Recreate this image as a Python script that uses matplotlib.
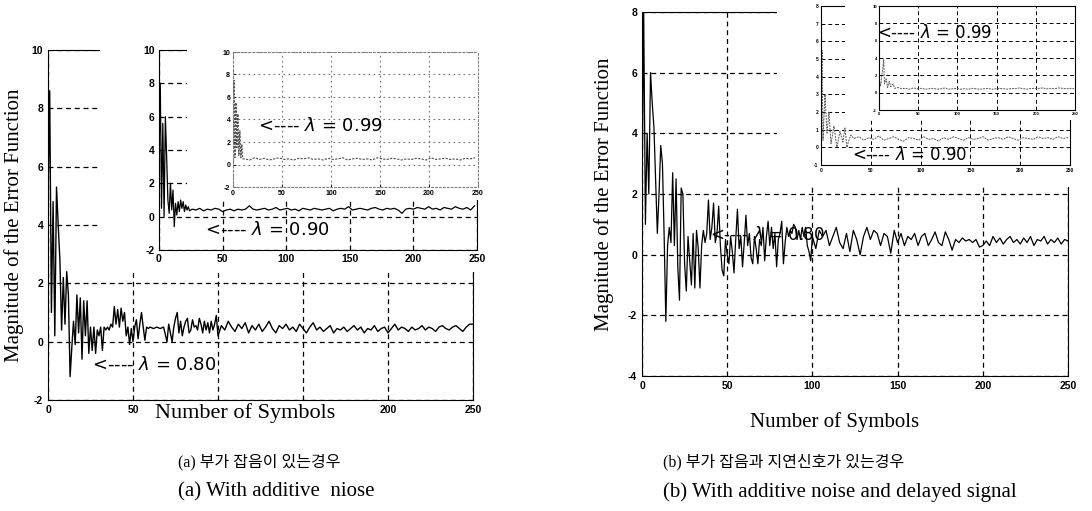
import numpy as np
import matplotlib.pyplot as plt
from matplotlib.patches import Rectangle

W, H = 1092, 511

# ---------------- data ----------------
# (a) additive noise, lambda = 0.80 (main plot)
a80_head_x = [0, 1, 2, 3, 4, 5, 6, 7, 8, 9, 10, 11, 12, 13, 14, 15, 16, 17, 18, 19,
              20, 21, 22, 23, 24, 25, 26, 27, 28, 29, 30, 31, 32, 33, 34, 35, 36, 37, 38, 39,
              40, 41, 42, 43, 44, 45, 46, 47, 48, 49, 50, 51, 52, 53, 54, 55, 56, 57, 58, 59,
              60, 62, 64, 66, 68, 70, 71, 73, 74, 75, 76, 77, 78, 79, 80, 81, 82, 83, 84, 85,
              86, 87, 88, 89, 90, 91, 92, 93, 94, 95, 96, 97, 98, 99, 100]
a80_head_y = [4.8, 8.6, 1.0, 4.8, 0.2, 5.3, 4.0, 2.8, 0.4, 2.2, 0.6, 2.4, 1.6, -1.2, -0.2, 0.7, -0.1, 1.6, 0.3, 1.5,
              -0.6, 1.4, 0.2, 1.4, -0.4, 0.5, -0.3, 0.5, -0.4, 0.4, 0.2, 0.5, -0.3, 0.5, 0.4, 0.5, 0.4, 0.6, 0.5, 1.2,
              0.6, 1.1, 0.5, 1.15, 0.7, 1.0, 0.2, 0.5, -0.1, 0.45, 0.0, 0.5, 0.75, 0.1, 0.6, 1.0, 0.5, 0.05, 0.5, 0.45,
              0.5, 0.45, 0.5, 0.45, 0.5, 0.0, 0.6, 0.0, 0.5, 0.8, 1.0, 0.3, 0.7, 0.2, 0.5, 0.7, 0.8, 0.3, 0.4, 0.75,
              0.5, 0.55, 0.4, 0.8, 0.6, 0.3, 0.7, 0.4, 0.65, 0.3, 0.7, 0.4, 0.6, 0.9, 0.2]
a80_tail_y = [0.55, 0.4, 0.7, 0.5, 0.35, 0.6, 0.45, 0.65, 0.3, 0.55, 0.4, 0.6, 0.35, 0.5, 0.7, 0.45, 0.3, 0.55, 0.45, 0.6,
              0.4, 0.5, 0.35, 0.6, 0.45, 0.3, 0.5, 0.65, 0.4, 0.5, 0.35, 0.45, 0.55, 0.3, 0.45, 0.4, 0.5, 0.35, 0.45, 0.55,
              0.4, 0.5, 0.3, 0.45, 0.4, 0.55, 0.35, 0.45, 0.5, 0.3, 0.45, 0.6, 0.4, 0.5, 0.45, 0.35, 0.5, 0.4, 0.45, 0.55,
              0.4, 0.5, 0.45, 0.35, 0.5, 0.55, 0.45, 0.4, 0.5, 0.55, 0.45, 0.35, 0.5, 0.6, 0.6]

# (a) lambda = 0.90 (first inset)
a90_head_x = list(range(25))
a90_head_y = [3.5, 8.0, 0.5, 5.6, 0.0, 6.0, 3.6, 1.0, 0.2, 2.0, 0.4, 1.6, -0.6, 0.8, 0.1, 0.9, 0.3, 1.0, 0.5, 0.9,
              0.3, 0.7, 0.4, 0.6, 0.35]
a90_tail_y = [0.45, 0.4, 0.5, 0.35, 0.45, 0.4, 0.5, 0.45, 0.3, 0.4, 0.45, 0.35, 0.45, 0.4, 0.45,
              0.65, 0.45, 0.4, 0.45, 0.5, 0.4, 0.45, 0.55, 0.4, 0.45, 0.5, 0.4, 0.45, 0.35, 0.5,
              0.45, 0.4, 0.5, 0.45, 0.4, 0.45, 0.5, 0.35, 0.45, 0.5, 0.45, 0.6, 0.4, 0.45, 0.5,
              0.45, 0.4, 0.5, 0.55, 0.45, 0.4, 0.5, 0.45, 0.5, 0.4, 0.2, 0.45, 0.5, 0.45, 0.55,
              0.5, 0.45, 0.6, 0.45, 0.5, 0.4, 0.55, 0.5, 0.45, 0.6, 0.5, 0.45, 0.55, 0.4, 0.65]

# (a) lambda = 0.99 (second inset)
a99_head_x = list(range(11))
a99_head_y = [2.0, 7.5, 0.6, 5.5, 1.5, 4.5, 0.8, 3.0, 0.6, 1.8, 0.5]
a99_tail_y = [0.5, 0.4, 0.6, 0.45, 0.55, 0.4, 0.5, 0.6, 0.45, 0.5, 0.4, 0.55, 0.5, 0.6, 0.45, 0.5,
              0.4, 0.55, 0.45, 0.5, 0.6, 0.4, 0.5, 0.55, 0.45, 0.5, 0.4, 0.6, 0.5, 0.45, 0.55, 0.5,
              0.4, 0.5, 0.45, 0.55, 0.5, 0.4, 0.6, 0.45, 0.5, 0.55, 0.45, 0.5, 0.4, 0.55, 0.5, 0.6]

# (b) additive noise + delayed signal, lambda = 0.80 (main plot)
b80_head_x = [0, 1, 2, 3, 4, 5, 6, 7, 9, 10, 11, 12, 13, 14, 15, 16, 17, 18, 19, 20,
              21, 22, 23, 24, 25, 26, 27, 28, 29, 30, 31, 32, 33, 34, 35, 36, 37, 38, 39, 40,
              41, 42, 43, 44, 45, 46, 47, 48, 49, 50, 51, 52, 53, 54, 55, 56, 57, 58, 59, 60,
              61, 62, 63, 64, 65, 66, 67, 68, 69, 70, 71, 72, 73, 74, 75, 76, 77, 78, 79, 80,
              81, 82, 83, 84, 85, 86, 87, 88, 89, 90, 91, 92, 93, 94, 95, 96, 97, 98, 99, 100]
b80_head_y = [1.8, 8.0, 1.0, 4.0, 2.0, 6.0, 5.0, 4.2, 0.7, 2.0, 3.6, 3.0, 0.6, -2.2, 0.3, 0.9, 0.4, 2.7, 0.3, 2.5,
              -0.4, -1.5, 2.2, 2.0, -0.3, -1.2, 0.6, -0.2, -1.0, 0.7, -1.1, 0.8, 0.2, -1.1, 0.3, 0.8, 0.4, 0.7, 1.8, 0.5,
              0.9, 1.7, 0.4, 0.7, 1.6, 0.3, -0.5, -0.7, 0.5, 0.0, -0.3, 0.6, 0.1, -0.6, 0.5, 1.5, 0.2, 0.6, -0.4, 0.4,
              1.3, 0.3, 0.7, -0.1, -0.3, 0.6, 0.2, -0.3, 0.5, 0.3, 0.9, -0.2, 0.6, 1.1, 0.3, 0.9, 0.2, 0.7, -0.4, 0.5,
              0.7, 1.1, -0.3, 0.4, 0.9, 0.6, 0.8, 0.7, 1.0, 0.9, 0.5, 0.8, 0.5, 0.9, 0.6, 0.9, 0.3, 0.1, -0.2, 0.6]
b80_tail_y = [0.2, 0.8, 0.6, 0.8, 0.3, 0.6, 0.9, 0.4, 0.2, 0.7,
              0.1, 0.8, 0.5, 0.0, 0.6, 0.9, 0.5, 0.8, 0.7, 0.3,
              0.7, 0.6, 0.05, 0.8, 0.4, 0.7, 0.3, 0.6, 0.5, 0.7,
              0.3, 0.6, 0.7, 0.3, 0.5, 0.75, 0.4, 0.3, 0.75, 0.5,
              0.15, 0.5, 0.4, 0.55, 0.45, 0.5, 0.4, 0.5, 0.25, 0.3,
              0.45, 0.3, 0.6, 0.4, 0.55, 0.35, 0.5, 0.6, 0.4, 0.5,
              0.35, 0.55, 0.4, 0.6, 0.3, 0.5, 0.45, 0.6, 0.35, 0.5,
              0.4, 0.55, 0.35, 0.5, 0.45]

# (b) lambda = 0.90 (first inset)
b90_head_x = [0, 1, 2, 4, 6, 8, 10, 13, 16, 19, 22, 24, 26, 28, 30]
b90_head_y = [1.0, 5.5, 0.4, 3.0, 0.8, 2.0, 0.2, 1.2, 0.0, 0.9, 0.3, 1.1, 0.0, 0.4, 0.7]
b90_tail_y = [0.5, 0.6, 0.4, 0.55, 0.45, 0.65, 0.4, 0.5, 0.6, 0.45, 0.35, 0.55, 0.5, 0.4, 0.6,
              0.45, 0.5, 0.35, 0.55, 0.45, 0.6, 0.5, 0.4, 0.55, 0.45, 0.5, 0.6, 0.4, 0.5, 0.55,
              0.45, 0.6, 0.5, 0.4, 0.55, 0.5, 0.45, 0.6, 0.5, 0.55, 0.45, 0.6, 0.5, 0.55]

# (b) lambda = 0.99 (second inset)
b99_head_x = [0, 2, 4, 6, 7, 9, 11, 13, 15, 18, 20]
b99_head_y = [1.5, 0.8, 2.2, 3.8, 1.0, 1.6, 0.6, 1.3, 0.7, 1.0, 0.5]
b99_tail_y = [0.6, 0.45, 0.5, 0.4, 0.55, 0.45, 0.5, 0.4, 0.45, 0.5, 0.4, 0.45, 0.55, 0.4, 0.45, 0.5,
              0.4, 0.45, 0.4, 0.5, 0.45, 0.4, 0.45, 0.5, 0.4, 0.45, 0.5, 0.45, 0.4, 0.5, 0.45, 0.55,
              0.45, 0.4, 0.5, 0.45, 0.5, 0.55, 0.45, 0.5, 0.45, 0.55, 0.5, 0.45, 0.5, 0.45]

x_ticks = [0, 50, 100, 150, 200, 250]


def series(head_x, head_y, start, step, tail_y):
    x = list(head_x) + [start + step * i for i in range(len(tail_y))]
    return x, list(head_y) + list(tail_y)


def box(l, t, r, b):
    # pixel box -> figure fraction [left, bottom, width, height]
    return [l / W, 1 - b / H, (r - l) / W, (b - t) / H]


def cover(fig, l, t, r, b, z):
    fig.add_artist(Rectangle((l / W, 1 - b / H), (r - l) / W, (b - t) / H,
                             transform=fig.transFigure, facecolor='white',
                             edgecolor='none', zorder=z))


def setup(ax, ylim, yticks, size, pad, grid_kw, xlabels=None):
    ax.set_xlim(0, 250)
    ax.set_ylim(*ylim)
    ax.set_xticks(x_ticks, labels=xlabels if xlabels else [str(t) for t in x_ticks],
                  fontsize=size, fontweight='bold', family='Liberation Sans')
    ax.set_yticks(yticks, labels=[str(t) for t in yticks],
                  fontsize=size, fontweight='bold', family='Liberation Sans')
    ax.tick_params(direction='in', length=2, width=0.6, pad=pad)
    ax.grid(True, **grid_kw)


fig = plt.figure(figsize=(W / 100, H / 100), dpi=100)
dash = dict(color='black', linestyle=(0, (4, 3)), linewidth=0.9)
faint = dict(color='0.45', linestyle=(0, (1.5, 3)), linewidth=0.8)
lam_font = dict(family='DejaVu Sans', fontsize=13, va='center', ha='left')

# ===================== panel (a) =====================
ax = fig.add_axes(box(48, 50, 473, 400))
ax.set_zorder(0)
setup(ax, (-2, 10), [-2, 0, 2, 4, 6, 8, 10], 7.5, 3.5, dash,
      xlabels=['0', '50', '', '', '200', '250'])
x, y = series(a80_head_x, a80_head_y, 102, 2, a80_tail_y)
ax.plot(x, y, color='black', lw=1.0)
ax.text(26, -0.8, r'<---- $\lambda$ = 0.80', **lam_font)
ax.set_ylabel('Magnitude of the Error Function', family='Liberation Serif', fontsize=15)
ax.yaxis.set_label_coords(-0.056, 0.5)
ax.text(0.464, -0.037, 'Number of Symbols', transform=ax.transAxes, ha='center', va='center',
        family='Liberation Serif', fontsize=16)

cover(fig, 100, 0, 486, 272, 0.5)
ax1 = fig.add_axes(box(159, 50, 477, 250))
ax1.set_zorder(1)
setup(ax1, (-2, 10), [-2, 0, 2, 4, 6, 8, 10], 7.5, 3.0, dash)
x, y = series(a90_head_x, a90_head_y, 26, 3, a90_tail_y)
ax1.plot(x, y, color='black', lw=0.9)
ax1.text(36, -0.8, r'<---- $\lambda$ = 0.90', **lam_font)

cover(fig, 187, 0, 486, 200, 1.5)
ax2 = fig.add_axes(box(233, 52, 478, 187))
ax2.set_zorder(2)
setup(ax2, (-2, 10), [-2, 0, 2, 4, 6, 8, 10], 5, 2.0, faint)
for s in ax2.spines.values():
    s.set_color('0.5')
    s.set_linestyle((0, (1.5, 2)))
    s.set_linewidth(0.8)
x, y = series(a99_head_x, a99_head_y, 12, 5, a99_tail_y)
ax2.plot(x, y, color='0.3', lw=0.8, linestyle=(0, (2, 1.2)))
ax2.text(25, 3.4, r'<---- $\lambda$ = 0.99', **lam_font)

# ===================== panel (b) =====================
bx = fig.add_axes(box(642, 12, 1068, 376))
bx.set_zorder(0)
setup(bx, (-4, 8), [-4, -2, 0, 2, 4, 6, 8], 7.5, 3.5, dash)
x, y = series(b80_head_x, b80_head_y, 102, 2, b80_tail_y)
bx.text(40, 0.65, r'<---- $\lambda$ = 0.80', family='DejaVu Sans', fontsize=12, va='center')
bx.plot(x, y, color='black', lw=0.9)
bx.set_ylabel('Magnitude of the Error Function', family='Liberation Serif', fontsize=15)
bx.yaxis.set_label_coords(-0.066, 0.5)
bx.set_xlabel('Number of Symbols', family='Liberation Serif', fontsize=15)
bx.xaxis.set_label_coords(0.453, -0.10)

cover(fig, 777, 0, 1092, 187, 0.5)
bx1 = fig.add_axes(box(821, 6, 1070, 165))
bx1.set_zorder(1)
setup(bx1, (-1, 8), list(range(-1, 9)), 3.5, 2.0, dict(dash, linewidth=0.7))
x, y = series(b90_head_x, b90_head_y, 33, 5, b90_tail_y)
bx1.plot(x, y, color='0.35', lw=0.7, linestyle=(0, (2, 1)))
bx1.text(31, -0.45, r'<---- $\lambda$ = 0.90', family='DejaVu Sans', fontsize=12, va='center')

cover(fig, 845, 0, 1092, 120, 1.5)
bx2 = fig.add_axes(box(879, 6, 1075, 110))
bx2.set_zorder(2)
setup(bx2, (-2, 10), [-2, 0, 2, 4, 6, 8, 10], 3, 1.5, dict(dash, linewidth=0.7))
x, y = series(b99_head_x, b99_head_y, 24, 5, b99_tail_y)
bx2.plot(x, y, color='0.35', lw=0.7, linestyle=(0, (2, 1)))
bx2.text(-2.5, 6.9, r'<---- $\lambda$ = 0.99', family='DejaVu Sans', fontsize=12, va='center')

# ===================== captions =====================
cap_ko = dict(family=['Liberation Serif', 'Noto Sans CJK KR'], fontsize=11.5, va='center', ha='left')
cap_en = dict(family='Liberation Serif', fontsize=15, va='center', ha='left')
fig.text(178 / W, 1 - 462 / H, '(a) 부가 잡음이 있는경우', **cap_ko)
fig.text(178 / W, 1 - 492 / H, '(a) With additive  niose', **cap_en)
fig.text(663 / W, 1 - 462 / H, '(b) 부가 잡음과 지연신호가 있는경우', **cap_ko)
fig.text(663 / W, 1 - 492 / H, '(b) With additive noise and delayed signal', **cap_en)

fig.savefig('out.png', dpi=100)
